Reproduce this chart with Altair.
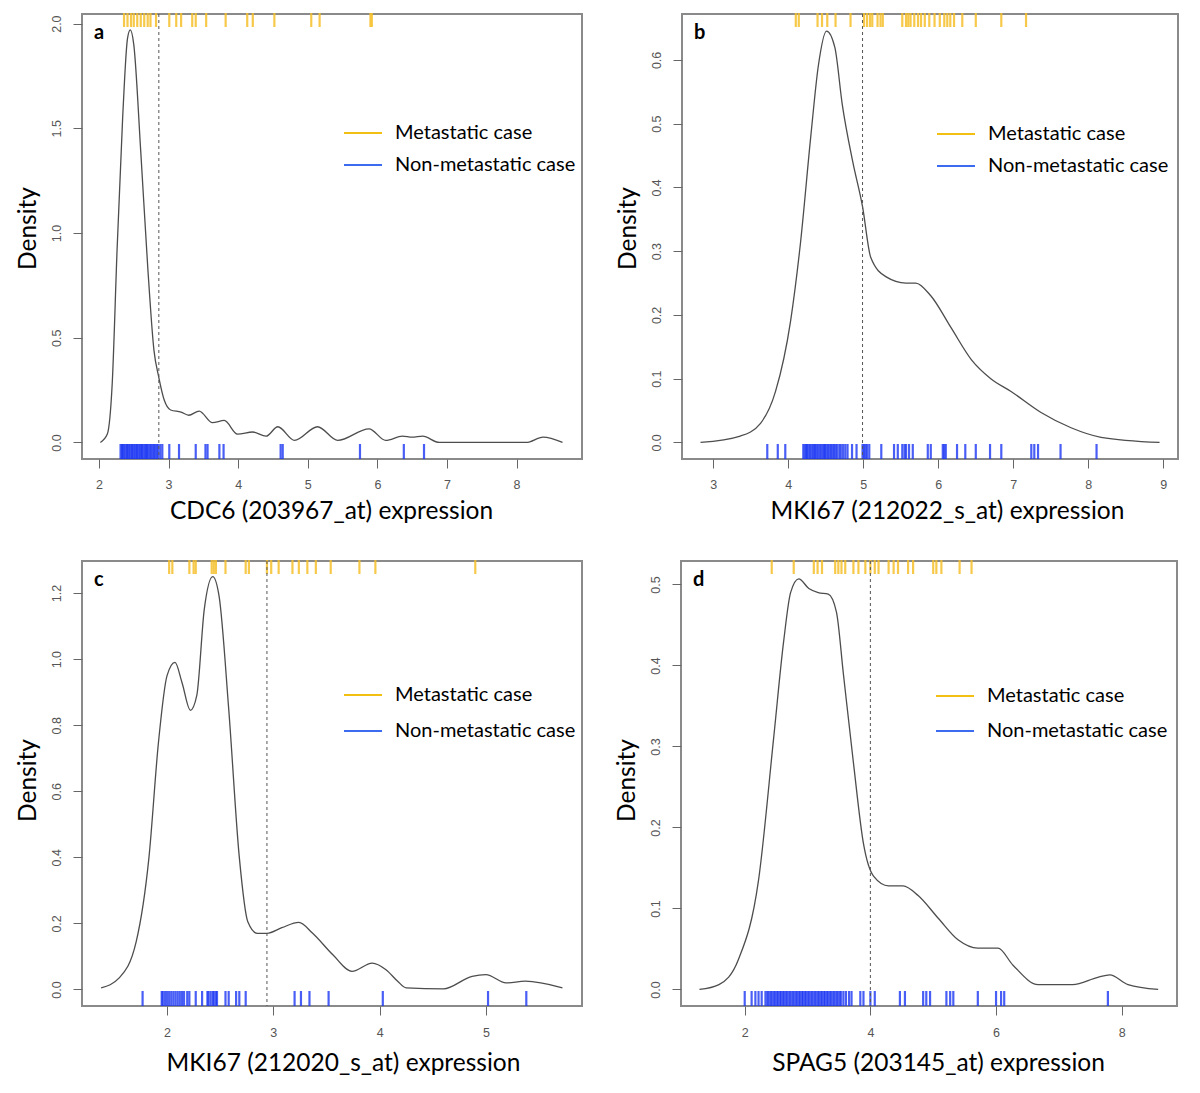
import altair as alt
import pandas as pd

# ---------------- data ----------------
# Panel a: CDC6 (203967_at)
a_dens_x = [2.02, 2.12, 2.19, 2.26, 2.34, 2.41, 2.45, 2.50, 2.60, 2.70, 2.79, 2.86, 2.94, 3.03, 3.18, 3.29, 3.44,
            3.63, 3.80, 3.99, 4.21, 4.40, 4.57, 4.81, 5.14, 5.43, 5.88, 6.12, 6.36, 6.50, 6.65, 6.89, 7.50, 8.14,
            8.38, 8.66]
a_dens_y = [0.00, 0.04, 0.28, 0.92, 1.55, 1.93, 1.97, 1.90, 1.39, 0.84, 0.44, 0.31, 0.20, 0.155, 0.145, 0.13, 0.15,
            0.095, 0.105, 0.04, 0.05, 0.03, 0.075, 0.01, 0.075, 0.01, 0.065, 0.01, 0.03, 0.025, 0.03, 0.0, 0.0, 0.0,
            0.025, 0.0]
a_met = [2.36, 2.41, 2.46, 2.50, 2.55, 2.60, 2.65, 2.70, 2.74, 2.82, 3.01, 3.11, 3.18, 3.34, 3.39, 3.54, 3.82, 4.13,
         4.21, 4.52, 5.05, 5.17, 5.90, 5.92]
a_non = [2.31, 2.33, 2.34, 2.36, 2.38, 2.40, 2.41, 2.43, 2.45, 2.47, 2.48, 2.50, 2.52, 2.54, 2.55, 2.57, 2.59, 2.61,
         2.62, 2.64, 2.66, 2.68, 2.69, 2.71, 2.73, 2.75, 2.77, 2.79, 2.81, 2.83, 2.85, 2.88, 2.91,
         3.01, 3.15, 3.39, 3.53, 3.56, 3.73, 3.79, 4.61, 4.64, 5.75, 6.38, 6.67]
a_cut = 2.86

# Panel b: MKI67 (212022_s_at)
b_dens_x = [2.83, 3.36, 3.63, 3.83, 4.03, 4.16, 4.30, 4.40, 4.51, 4.62, 4.72, 4.86, 4.99, 5.10, 5.30, 5.57, 5.70,
            5.90, 6.17, 6.44, 6.70, 6.97, 7.37, 7.77, 8.17, 8.95]
b_dens_y = [0.0, 0.01, 0.03, 0.08, 0.19, 0.31, 0.48, 0.59, 0.645, 0.62, 0.53, 0.44, 0.37, 0.29, 0.26, 0.25, 0.25,
            0.23, 0.18, 0.13, 0.10, 0.08, 0.047, 0.023, 0.008, 0.0]
b_met = [4.10, 4.14, 4.39, 4.45, 4.52, 4.63, 4.83, 5.01, 5.05, 5.09, 5.12, 5.19, 5.23, 5.26, 5.52, 5.57, 5.60, 5.63,
         5.68, 5.73, 5.77, 5.82, 5.88, 5.95, 6.02, 6.08, 6.12, 6.16, 6.21, 6.32, 6.50, 6.84, 7.17]
b_non = [3.72, 3.86, 3.96, 4.20, 4.22, 4.24, 4.25, 4.27, 4.29, 4.31, 4.33, 4.35, 4.36, 4.38, 4.40, 4.42, 4.44, 4.46,
         4.48, 4.49, 4.51, 4.53, 4.55, 4.57, 4.59, 4.61, 4.63, 4.65, 4.68, 4.70, 4.73, 4.76, 4.79,
         4.85, 4.91, 4.99, 5.01, 5.03, 5.05, 5.08, 5.24, 5.41, 5.46, 5.52, 5.55, 5.57, 5.61, 5.66, 5.86, 5.90,
         6.06, 6.08, 6.10, 6.25, 6.36, 6.50, 6.69, 6.84, 7.24, 7.28, 7.33, 7.63, 8.11]
b_cut = 4.99

# Panel c: MKI67 (212020_s_at)
c_dens_x = [1.38, 1.55, 1.71, 1.83, 1.92, 2.00, 2.075, 2.14, 2.22, 2.28, 2.35, 2.43, 2.49, 2.58, 2.68, 2.76, 2.85,
            2.94, 3.08, 3.24, 3.37, 3.56, 3.74, 3.93, 4.06, 4.17, 4.25, 4.60, 4.87, 5.00, 5.19, 5.37, 5.72]
c_dens_y = [0.005, 0.035, 0.145, 0.40, 0.75, 0.95, 0.99, 0.93, 0.845, 0.89, 1.15, 1.25, 1.19, 0.85, 0.40, 0.205,
            0.17, 0.17, 0.187, 0.203, 0.17, 0.105, 0.055, 0.08, 0.06, 0.025, 0.005, 0.002, 0.04, 0.045, 0.02,
            0.025, 0.005]
c_met = [2.02, 2.05, 2.21, 2.25, 2.27, 2.42, 2.44, 2.46, 2.55, 2.74, 2.77, 2.94, 2.98, 3.05, 3.18, 3.24, 3.32, 3.40,
         3.54, 3.81, 3.96, 4.90]
c_non = [1.77, 1.95, 1.96, 1.98, 2.00, 2.02, 2.04, 2.06, 2.08, 2.10, 2.12, 2.14, 2.16, 2.19, 2.21, 2.27, 2.33,
         2.38, 2.39, 2.41, 2.43, 2.44, 2.46, 2.47, 2.55, 2.58, 2.65, 2.68, 2.74, 3.20, 3.26, 3.34, 3.52, 4.03,
         5.02, 5.38]
c_cut = 2.94

# Panel d: SPAG5 (203145_at)
d_dens_x = [1.28, 1.59, 1.90, 2.22, 2.46, 2.62, 2.73, 2.86, 3.02, 3.17, 3.33, 3.46, 3.57, 3.73, 3.89, 4.05, 4.29,
            4.52, 4.76, 5.08, 5.40, 5.71, 6.03, 6.27, 6.67, 7.22, 7.62, 7.81, 8.10, 8.58]
d_dens_y = [0.0, 0.006, 0.037, 0.135, 0.31, 0.43, 0.49, 0.507, 0.495, 0.49, 0.488, 0.466, 0.39, 0.28, 0.18, 0.14,
            0.128, 0.128, 0.116, 0.088, 0.061, 0.051, 0.051, 0.03, 0.006, 0.006, 0.015, 0.018, 0.006, 0.0]
d_met = [2.43, 2.78, 3.10, 3.16, 3.23, 3.44, 3.49, 3.54, 3.60, 3.73, 3.81, 3.92, 4.00, 4.07, 4.13, 4.29, 4.37, 4.44,
         4.60, 4.68, 5.00, 5.05, 5.13, 5.42, 5.61]
d_non = [2.00, 2.11, 2.17, 2.22, 2.27, 2.33, 2.36, 2.38, 2.41, 2.43, 2.46, 2.48, 2.51, 2.53, 2.56, 2.58, 2.61, 2.63,
         2.66, 2.68, 2.71, 2.73, 2.76, 2.78, 2.81, 2.83, 2.86, 2.88, 2.91, 2.93, 2.96, 2.98, 3.01, 3.03, 3.06, 3.08,
         3.11, 3.13, 3.16, 3.18, 3.21, 3.23, 3.26, 3.28, 3.31, 3.33, 3.36, 3.38, 3.41, 3.43, 3.46, 3.48, 3.51, 3.53,
         3.57, 3.61, 3.66, 3.70, 3.84, 3.89, 4.00, 4.07, 4.47, 4.55, 4.84, 4.89, 4.95, 5.21, 5.27, 5.32, 5.71, 6.00,
         6.08, 6.13, 7.78]
d_cut = 4.00

legend_labels = ["Metastatic case", "Non-metastatic case"]

# ---------------- styling ----------------
YELLOW = "#F6C02A"
BLUE = "#1B36F2"
LEG_YELLOW = "#F2C012"
LEG_BLUE = "#3D6BEF"
TITLE_FONT = "Lato"
H = 445


def panel(letter, dx, dy, met, non, cut, xdom, ydom, xticks, yticks, xtitle, width, leg_x, leg_y,
          xlab_pad, xtitle_pad, xtitle_x, ytitle_y):
    xs = alt.Scale(domain=xdom, nice=False, zero=False)
    ys = alt.Scale(domain=ydom, nice=False, zero=False)
    xax = alt.Axis(values=xticks, format="d", title=xtitle, labelPadding=xlab_pad, titlePadding=xtitle_pad,
                   titleX=xtitle_x)
    yax = alt.Axis(values=yticks, format=".1f", title="Density", titleY=ytitle_y)

    dens = pd.DataFrame({"x": dx, "y": dy})
    line = alt.Chart(dens).mark_line(color="#4d4d4d", strokeWidth=1.3, interpolate="monotone").encode(
        x=alt.X("x:Q", scale=xs, axis=xax, title=xtitle),
        y=alt.Y("y:Q", scale=ys, axis=yax, title="Density"),
    )
    top = alt.Chart(pd.DataFrame({"v": met})).mark_rule(color=YELLOW, strokeWidth=2.2, opacity=0.85).encode(
        x=alt.X("v:Q", scale=xs, title=xtitle), y=alt.value(-1), y2=alt.value(13)
    )
    bot = alt.Chart(pd.DataFrame({"v": non})).mark_rule(color=BLUE, strokeWidth=2.2, opacity=0.8).encode(
        x=alt.X("v:Q", scale=xs, title=xtitle), y=alt.value(H - 15), y2=alt.value(H)
    )
    cutl = alt.Chart(pd.DataFrame({"v": [cut]})).mark_rule(color="#555555", strokeWidth=1, strokeDash=[3, 3]).encode(
        x=alt.X("v:Q", scale=xs, title=xtitle)
    )
    lab = alt.Chart(pd.DataFrame({"t": [letter]})).mark_text(
        font=TITLE_FONT, fontSize=20, fontWeight="bold", align="left", baseline="middle", color="black"
    ).encode(x=alt.value(12), y=alt.value(19), text="t:N")

    layers = [line, top, bot, cutl, lab]
    for lbl, col, yy in zip(legend_labels, [LEG_YELLOW, LEG_BLUE], leg_y):
        d = pd.DataFrame({"t": [lbl]})
        layers.append(alt.Chart(d).mark_rule(color=col, strokeWidth=2).encode(
            x=alt.value(leg_x), x2=alt.value(leg_x + 38), y=alt.value(yy)))
        layers.append(alt.Chart(d).mark_text(
            font=TITLE_FONT, fontSize=20, align="left", baseline="middle", color="black"
        ).encode(x=alt.value(leg_x + 51), y=alt.value(yy), text="t:N"))
    return alt.layer(*layers).properties(width=width, height=H)


pa = panel("a", a_dens_x, a_dens_y, a_met, a_non, a_cut, [1.756, 8.94], [-0.079, 2.046],
           [2, 3, 4, 5, 6, 7, 8], [0.0, 0.5, 1.0, 1.5, 2.0], "CDC6 (203967_at) expression", 500,
           262, [119, 151], 10, 9, 249, 214)
pb = panel("b", b_dens_x, b_dens_y, b_met, b_non, b_cut, [2.583, 9.196], [-0.026, 0.672],
           [3, 4, 5, 6, 7, 8, 9], [0.0, 0.1, 0.2, 0.3, 0.4, 0.5, 0.6], "MKI67 (212022_s_at) expression", 496,
           255, [120, 152], 10, 9, 265, 214)
pc = panel("c", c_dens_x, c_dens_y, c_met, c_non, c_cut, [1.20, 5.904], [-0.05, 1.297],
           [2, 3, 4, 5], [0.0, 0.2, 0.4, 0.6, 0.8, 1.0, 1.2], "MKI67 (212020_s_at) expression", 500,
           262, [134, 170], 11, 13, 261, 219)
pd_ = panel("d", d_dens_x, d_dens_y, d_met, d_non, d_cut, [0.986, 8.88], [-0.0204, 0.529],
            [2, 4, 6, 8], [0.0, 0.1, 0.2, 0.3, 0.4, 0.5], "SPAG5 (203145_at) expression", 496,
            255, [135, 170], 11, 13, 257, 219)

chart = alt.vconcat(
    alt.hconcat(pa, pb, spacing=30),
    alt.hconcat(pc, pd_, spacing=30),
    spacing=33,
).properties(
    padding={"left": 5, "top": 2, "right": 0, "bottom": 0},
    background="white",
).configure_view(
    stroke="#8a8a8a", strokeWidth=2
).configure_axis(
    grid=False, domain=False, tickColor="#666666", tickSize=9, tickWidth=1,
    labelFont="Liberation Sans", labelFontSize=12.5, labelColor="#555555",
    titleFont=TITLE_FONT, titleFontSize=24.5, titleFontWeight="normal", titleColor="black",
).configure_axisY(
    labelAngle=270, labelAlign="center", labelBaseline="bottom", labelPadding=10, titlePadding=10
)

chart.save("out.html", embed_options={"renderer": "svg", "actions": False})
